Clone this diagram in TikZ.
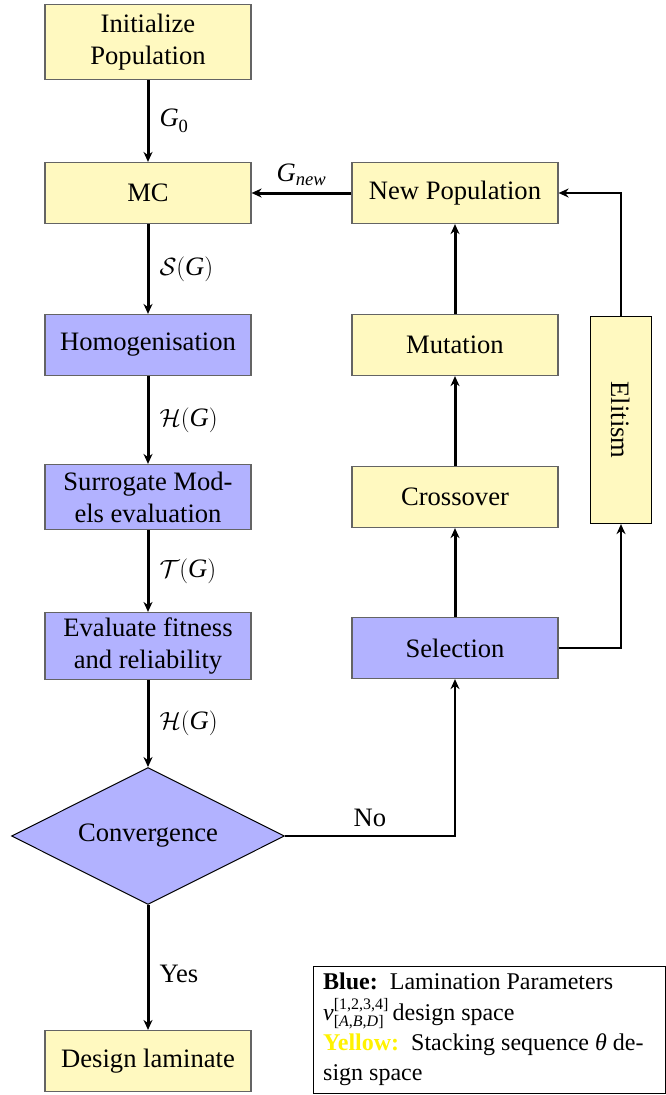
\documentclass[tikz,border=0pt]{standalone}
\usepackage{fontspec}
\setmainfont{Liberation Serif}
\usepackage{graphicx}
\usetikzlibrary{shapes.geometric,arrows.meta}
\definecolor{yfill}{RGB}{255,249,192}
\definecolor{bfill}{RGB}{178,178,255}
\definecolor{bordergray}{RGB}{100,100,100}
\newcommand{\subz}{\raisebox{-6pt}{\fontsize{18.6}{20}\selectfont 0}}
\begin{document}
\begin{tikzpicture}[x=1pt,y=-1pt,
  font=\fontsize{26.6}{32}\selectfont,
  box/.style={draw=bordergray,line width=1.2pt,minimum width=206pt,minimum height=61pt,align=center,inner sep=2pt},
  ybox/.style={box,fill=yfill},
  bbox/.style={box,fill=bfill},
  main/.style={line width=3pt,-{Stealth[length=10pt,width=9pt]}},
  thin/.style={line width=1.8pt,-{Stealth[length=10pt,width=9pt]}},
  lab/.style={inner sep=0pt}]
\useasboundingbox (0,0) rectangle (665,1095);
\node[ybox,minimum height=75pt] (init) at (148,42) {Initialize\\Population};
\node[ybox] (mc) at (148,193) {MC};
\node[bbox] (hom) at (148,345) {Homogenisation};
\node[bbox,minimum height=65pt] (sur) at (148,497) {Surrogate Mod-\\els evaluation};
\node[bbox,minimum height=67pt] (eva) at (148,646) {Evaluate fitness\\and reliability};
\node[diamond,draw=black,line width=1pt,fill=bfill,aspect=2,inner sep=0pt,minimum width=273pt,minimum height=137pt] (conv) at (148,836) {Convergence};
\node[ybox] (des) at (148,1061) {Design laminate};
\node[ybox] (newp) at (455,193) {New Population};
\node[ybox] (mut) at (455,345) {Mutation};
\node[ybox] (cro) at (455,497) {Crossover};
\node[bbox] (sel) at (455,648) {Selection};
\node[draw=black,line width=1.2pt,fill=yfill,minimum width=61pt,minimum height=207pt,inner sep=0pt] (eli) at (621,420) {\rotatebox{-90}{Elitism}};
\draw[main] (init) -- node[right=10pt,lab]{\textit{G}\subz} (mc);
\draw[main] (mc) -- node[right=10pt,lab]{$\mathcal{S}(\mathit{G})$} (hom);
\draw[main] (hom) -- node[right=10pt,lab]{$\mathcal{H}(\mathit{G})$} (sur);
\draw[main] (sur) -- node[right=10pt,lab]{$\mathcal{T}(\mathit{G})$} (eva);
\draw[main] (eva) -- node[right=10pt,lab]{$\mathcal{H}(\mathit{G})$} (conv);
\draw[main] (conv) -- node[right=10pt,lab,pos=0.55]{Yes} (des);
\draw[main] (newp) -- node[above=6pt,lab]{$\mathit{G}_{\mathit{new}}$} (mc);
\draw[main] (sel) -- (cro);
\draw[main] (cro) -- (mut);
\draw[main] (mut) -- (newp);
\coordinate (c1) at (455,836);
\draw[thin] (conv.east) -- node[above=8pt,lab,pos=0.5]{No} (c1) -- (sel.south);
\coordinate (c2) at (621,648);
\draw[thin] (sel.east) -- (c2) -- (eli.south);
\coordinate (c3) at (621,193);
\draw[thin] (eli.north) -- (c3) -- (newp.east);
\node[draw=black,line width=1pt,anchor=north west,inner sep=0pt,minimum width=352pt,minimum height=127pt] (leg) at (313,966) {};
\node[anchor=north west,align=left,inner sep=0pt,font=\fontsize{24}{29.5}\selectfont] (legt) at (323,973)
{\textbf{Blue:}\ \ Lamination Parameters\\[1pt]
\textit{v}\raisebox{-6pt}[0pt][0pt]{\fontsize{16}{18}\selectfont\makebox[0pt][l]{\raisebox{17pt}{[1,2,3,4]}}[\textit{A},\textit{B},\textit{D}]}\hspace{9pt}design space\\[1pt]
\textcolor{yellow}{\textbf{Yellow:}}\ \ Stacking sequence \textit{θ} de-\\
sign space};
\end{tikzpicture}
\end{document}
